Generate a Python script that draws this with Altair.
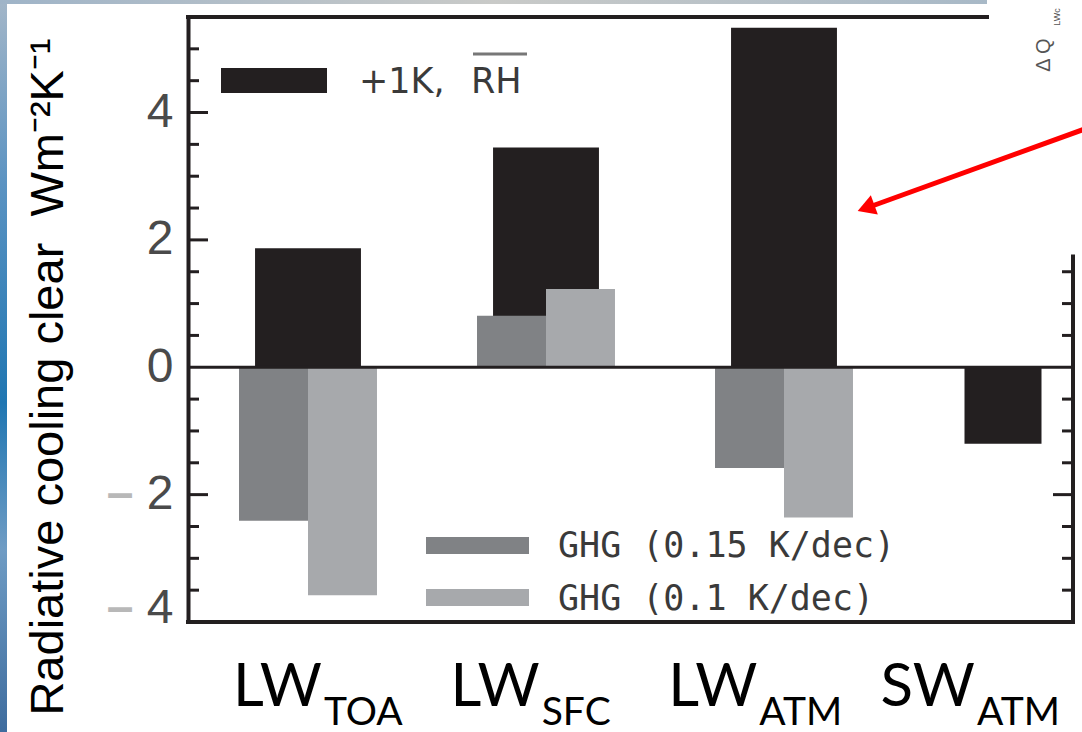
import altair as alt
import pandas as pd

# ---------------- data ----------------
categories = ["LW_TOA", "LW_SFC", "LW_ATM", "SW_ATM"]
label_main = ["LW", "LW", "LW", "SW"]
label_sub = ["TOA", "SFC", "ATM", "ATM"]
rh_values = [1.87, 3.45, 5.33, -1.20]            # +1K, RH  (black bars)
ghg015_values = [-2.41, 0.81, -1.58, None]       # GHG (0.15 K/dec)
ghg010_values = [-3.58, 1.23, -2.36, None]       # GHG (0.1 K/dec)
series_names = ["GHG (0.15 K/dec)", "GHG (0.1 K/dec)"]
y_major = [-4, -2, 0, 2, 4]
y_minus = [-4, -2]
left_major_ticks = [-2, 2, 4]
left_minor_ticks = [-3.5, -3, -2.5, -1.5, -1, -0.5, 0.5, 1, 1.5, 2.5, 3, 3.5, 4.5, 5]
right_major_ticks = [-2]
right_minor_ticks = [-3.5, -3, -2.5, -1.5, -1, -0.5, 0.5, 1, 1.5]
y_domain = [-4, 5.5]
right_axis_top = 1.77
y_title = "Radiative cooling clear\u00a0\u00a0Wm\u207b\u00b2K\u207b\u00b9"

# ---------------- layout ----------------
W, H = 885, 605
BLACK = "#231f20"
DARK = "#808285"
LIGHT = "#a7a9ac"

df_black = pd.DataFrame({"cat": categories, "value": rh_values})
rows = []
for c, a, b in zip(categories, ghg015_values, ghg010_values):
    if a is not None:
        rows.append({"cat": c, "series": series_names[0], "value": a})
    if b is not None:
        rows.append({"cat": c, "series": series_names[1], "value": b})
df_grey = pd.DataFrame(rows)
df_lab = pd.DataFrame({"cat": categories, "main": label_main, "sub": label_sub})

yscale = alt.Scale(domain=y_domain, nice=False, zero=False)
xscale = alt.Scale(domain=categories, range=[1, 953], paddingInner=0, paddingOuter=0)
xscale_sw = alt.Scale(domain=categories, range=[-18, 934], paddingInner=0, paddingOuter=0)

base_cond = {"condition": {"test": "datum.value == -4", "value": "alphabetic"}, "value": "middle"}

axis_digits = alt.Axis(
    orient="left", values=y_major, ticks=False, domain=True, domainColor=BLACK,
    domainWidth=4, grid=False, labelExpr="'' + abs(datum.value)",
    labelFont="Liberation Sans", labelFontSize=48, labelColor="#4a4a4a",
    labelPadding=15, labelBaseline=base_cond, labelOverlap=False, title=None, zindex=1,
)
axis_minus = alt.Axis(
    orient="left", values=y_minus, ticks=False, domain=False, grid=False,
    labelExpr="'\u2013'", labelFont="Liberation Sans", labelFontSize=48,
    labelFontWeight="bold", labelColor="#b8b8b8", labelPadding=55,
    labelBaseline=base_cond, labelOverlap=False, title=None, zindex=1,
)

# background strips of the slide
left_strip = alt.Chart().mark_rect(
    color=alt.LinearGradient(
        gradient="linear", x1=0, x2=0, y1=0, y2=1,
        stops=[alt.GradientStop(offset=0, color="#a3b6c8"),
               alt.GradientStop(offset=0.25, color="#5b93c2"),
               alt.GradientStop(offset=0.55, color="#1f76b2"),
               alt.GradientStop(offset=0.75, color="#6f9cc4"),
               alt.GradientStop(offset=1, color="#3e6c9e")])
).encode(x=alt.value(-188), x2=alt.value(-181), y=alt.value(-17), y2=alt.value(715))

top_strip = alt.Chart().mark_rect(
    color=alt.LinearGradient(
        gradient="linear", x1=0, x2=1, y1=0, y2=0,
        stops=[alt.GradientStop(offset=0, color="#9fb4c8"),
               alt.GradientStop(offset=0.5, color="#c9cac8"),
               alt.GradientStop(offset=1, color="#a8b9c7")])
).encode(x=alt.value(-188), x2=alt.value(799), y=alt.value(-17), y2=alt.value(-13))

black_bars = alt.Chart(df_black).transform_filter(
    "datum.cat != 'SW_ATM'"
).mark_bar(color=BLACK, width=alt.RelativeBandSize(0.445)).encode(
    x=alt.X("cat:N", scale=xscale, axis=None),
    y=alt.Y("value:Q", scale=yscale, axis=axis_digits),
    y2=alt.datum(0),
)
sw_bar = alt.Chart(df_black).transform_filter(
    "datum.cat == 'SW_ATM'"
).mark_bar(color=BLACK, width=alt.RelativeBandSize(0.3235)).encode(
    x=alt.X("cat:N", scale=xscale_sw, axis=None),
    y=alt.Y("value:Q", scale=yscale, axis=None),
    y2=alt.datum(0),
)

grey_bars = alt.Chart(df_grey).mark_bar().encode(
    x=alt.X("cat:N", scale=xscale, axis=None),
    xOffset=alt.XOffset("series:N", scale=alt.Scale(domain=series_names, paddingInner=0, paddingOuter=0.725)),
    y=alt.Y("value:Q", scale=yscale, axis=axis_minus),
    y2=alt.datum(0),
    color=alt.Color("series:N", scale=alt.Scale(domain=series_names, range=[DARK, LIGHT]), legend=None),
)

# frame lines
zero_line = alt.Chart().mark_rule(color=BLACK, strokeWidth=3).encode(
    y=alt.YDatum(0, scale=yscale, axis=None)
)
bottom_line = alt.Chart().mark_rule(color=BLACK, strokeWidth=4, strokeCap="square").encode(
    y=alt.YDatum(-4, scale=yscale, axis=None)
)
top_line = alt.Chart().mark_rule(color=BLACK, strokeWidth=4, strokeCap="square").encode(
    y=alt.YDatum(5.5, scale=yscale, axis=None), x=alt.value(0), x2=alt.value(799)
)
right_line = alt.Chart().mark_rule(color=BLACK, strokeWidth=4).encode(
    x=alt.value(W),
    y=alt.YDatum(right_axis_top, scale=yscale, axis=None),
    y2=alt.datum(-4),
)


def tick_layer(values, x0, x1):
    df = pd.DataFrame({"v": values})
    return alt.Chart(df).mark_rule(color=BLACK, strokeWidth=3).encode(
        y=alt.Y("v:Q", scale=yscale, axis=None), x=alt.value(x0), x2=alt.value(x1)
    )


ticks_l_major = tick_layer(left_major_ticks, 0, 20)
ticks_l_minor = tick_layer(left_minor_ticks, 0, 11)
ticks_r_major = tick_layer(right_major_ticks, W - 20, W)
ticks_r_minor = tick_layer(right_minor_ticks, W - 11, W)

# category labels with subscripts
lab_scale = alt.Scale(type="point", domain=categories, range=[134, 787], padding=0)
main_text = alt.Chart(df_lab).mark_text(
    align="right", baseline="alphabetic", font="Lato", fontSize=60, color="black"
).encode(x=alt.X("cat:N", scale=lab_scale, axis=None), y=alt.value(689), text="main:N")
sub_text = alt.Chart(df_lab).mark_text(
    align="left", baseline="alphabetic", font="Lato", fontSize=39, color="black", dx=2
).encode(x=alt.X("cat:N", scale=lab_scale, axis=None), y=alt.value(708), text="sub:N")

# y title
title_text = alt.Chart().mark_text(
    angle=270, align="center", baseline="alphabetic", font="Liberation Sans",
    fontSize=47, color="black"
).encode(x=alt.value(-125), y=alt.value(360), text=alt.value(y_title))

# legends
leg_black = alt.Chart().mark_rect(color=BLACK).encode(
    x=alt.value(33), x2=alt.value(139), y=alt.value(51), y2=alt.value(76))
leg_black_t1 = alt.Chart().mark_text(
    align="left", baseline="alphabetic", font="DejaVu Sans", fontSize=35, color="#3a3a3a"
).encode(x=alt.value(171), y=alt.value(76), text=alt.value("+1K,"))
leg_black_t2 = alt.Chart().mark_text(
    align="left", baseline="alphabetic", font="DejaVu Sans", fontSize=35, color="#3a3a3a"
).encode(x=alt.value(283), y=alt.value(76), text=alt.value("RH"))
leg_overline = alt.Chart().mark_rule(color="#777777", strokeWidth=3).encode(
    x=alt.value(285), x2=alt.value(339), y=alt.value(37))

leg_dark = alt.Chart().mark_rect(color=DARK).encode(
    x=alt.value(238), x2=alt.value(341), y=alt.value(520), y2=alt.value(537))
leg_light = alt.Chart().mark_rect(color=LIGHT).encode(
    x=alt.value(238), x2=alt.value(341), y=alt.value(572), y2=alt.value(589))
leg_t_dark = alt.Chart().mark_text(
    align="left", baseline="alphabetic", font="DejaVu Sans Mono", fontSize=35, color="#3a3a3a"
).encode(x=alt.value(370), y=alt.value(540), text=alt.value(series_names[0]))
leg_t_light = alt.Chart().mark_text(
    align="left", baseline="alphabetic", font="DejaVu Sans Mono", fontSize=35, color="#3a3a3a"
).encode(x=alt.value(370), y=alt.value(593), text=alt.value(series_names[1]))

# red arrow annotation
arrow_line = alt.Chart().mark_rule(color="#ff0000", strokeWidth=5).encode(
    x=alt.value(905), y=alt.value(109), x2=alt.value(684), y2=alt.value(189))
arrow_head = alt.Chart().mark_point(
    shape="triangle-up", filled=True, size=420, angle=250, color="#ff0000", opacity=1
).encode(x=alt.value(678), y=alt.value(191))

# fragment of neighbouring figure
frag_q = alt.Chart().mark_text(
    angle=270, align="center", baseline="alphabetic", font="Liberation Sans",
    fontSize=20, color="#555555"
).encode(x=alt.value(862), y=alt.value(38), text=alt.value("\u0394 Q"))
frag_sub = alt.Chart().mark_text(
    angle=270, align="center", baseline="alphabetic", font="Liberation Sans",
    fontSize=9, color="#555555"
).encode(x=alt.value(872), y=alt.value(0), text=alt.value("LWc"))

chart = alt.layer(
    left_strip, top_strip,
    black_bars, sw_bar, grey_bars, zero_line, bottom_line, top_line, right_line,
    ticks_l_major, ticks_l_minor, ticks_r_major, ticks_r_minor,
    main_text, sub_text, title_text,
    leg_black, leg_black_t1, leg_black_t2, leg_overline,
    leg_dark, leg_light, leg_t_dark, leg_t_light,
    arrow_line, arrow_head, frag_q, frag_sub,
).resolve_scale(x="independent").resolve_axis(y="independent").properties(
    width=W, height=H,
    autosize=alt.AutoSizeParams(type="none"),
    padding={"left": 188, "top": 17, "right": 9, "bottom": 110},
    background="white",
).configure_view(stroke=None)

chart.save("out.html", embed_options={"renderer": "svg", "actions": False})
